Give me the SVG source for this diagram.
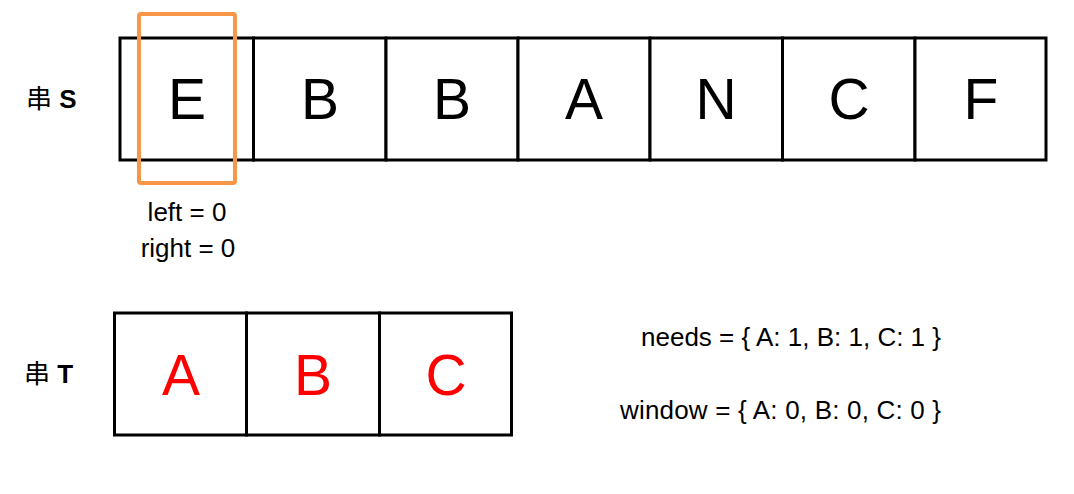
<svg xmlns="http://www.w3.org/2000/svg" width="1074" height="494" viewBox="0 0 1074 494">
  <style>
    .cell { fill: #ffffff; stroke: #000000; stroke-width: 3; }
    .big { font-family: "Liberation Sans", Arial, sans-serif; font-size: 57px; text-anchor: middle; fill: #000000; }
    .red { fill: #ff0000; }
    .lbl { font-family: "Liberation Sans", Arial, sans-serif; font-size: 26px; fill: #000000; }
    .mid { text-anchor: middle; }
    .cjk { font-family: "Liberation Sans", "Noto Sans CJK SC", sans-serif; font-size: 26px; fill: #000000; }
    .win { fill: none; stroke: #f79646; stroke-width: 4; }
  </style>
  <rect width="1074" height="494" fill="#ffffff"/>

  <g id="label-s"><text class="cjk" x="26" y="108">串 <tspan font-weight="bold">S</tspan></text></g>
  <g id="label-t"><text class="cjk" x="24" y="383">串 <tspan font-weight="bold">T</tspan></text></g>

  <g id="s0"><rect class="cell" x="120" y="38" width="133.5" height="122"/><text class="big" x="187" y="119">E</text></g>
  <g id="s1"><rect class="cell" x="253.5" y="38" width="132.5" height="122"/><text class="big" x="320" y="119">B</text></g>
  <g id="s2"><rect class="cell" x="386" y="38" width="132" height="122"/><text class="big" x="452" y="119">B</text></g>
  <g id="s3"><rect class="cell" x="518" y="38" width="132" height="122"/><text class="big" x="584" y="119">A</text></g>
  <g id="s4"><rect class="cell" x="650" y="38" width="132.5" height="122"/><text class="big" x="716" y="119">N</text></g>
  <g id="s5"><rect class="cell" x="782.5" y="38" width="132.5" height="122"/><text class="big" x="849" y="119">C</text></g>
  <g id="s6"><rect class="cell" x="915" y="38" width="131" height="122"/><text class="big" x="981" y="119">F</text></g>

  <g id="window-box"><rect class="win" x="139" y="14" width="96" height="169" rx="2"/></g>

  <g id="pointers">
    <text class="lbl mid" x="187" y="221">left = 0</text>
    <text class="lbl mid" x="188" y="257">right = 0</text>
  </g>

  <g id="t0"><rect class="cell" x="114.5" y="313" width="132" height="122"/><text class="big red" x="181" y="395">A</text></g>
  <g id="t1"><rect class="cell" x="246.5" y="313" width="133" height="122"/><text class="big red" x="313" y="395">B</text></g>
  <g id="t2"><rect class="cell" x="379.5" y="313" width="132" height="122"/><text class="big red" x="446" y="395">C</text></g>

  <g id="needs"><text class="lbl" x="641" y="346" textLength="300">needs = { A: 1, B: 1, C: 1 }</text></g>
  <g id="window"><text class="lbl" x="620" y="419" textLength="321">window = { A: 0, B: 0, C: 0 }</text></g>

  <g id="connectors"></g>
</svg>
